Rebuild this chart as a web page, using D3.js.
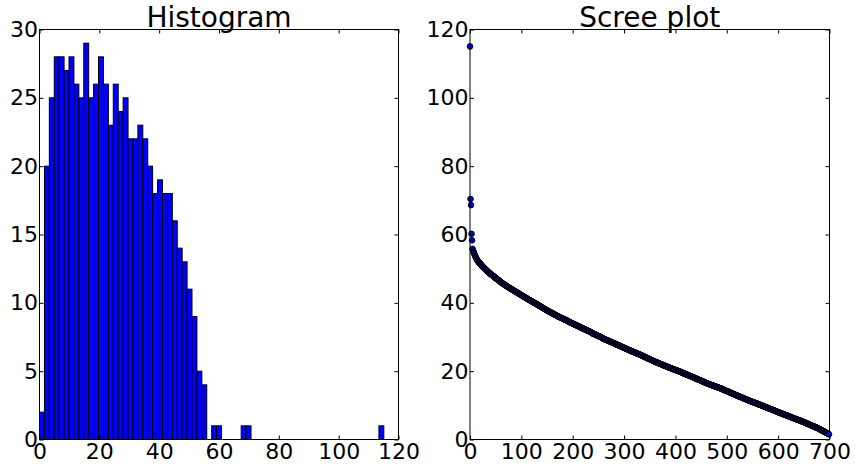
<!DOCTYPE html>
<html>
<head>
<meta charset="utf-8">
<script src="https://cdn.jsdelivr.net/npm/d3@7"></script>
<style>
body { margin: 0; background: #fff; }
text { font-family: "DejaVu Sans", sans-serif; }
</style>
</head>
<body>
<div id="chart"></div>
<script>
var w = 855,
    h = 465;

var eigenvalues = [
  115.05, 70.4, 68.6, 60.2, 58.3,
  55.8, 55.3, 54.9, 54.5,
  54.1, 53.7, 53.4, 53.1, 52.8,
  52.5, 52.3, 52.1, 51.9, 51.7, 51.6, 51.4, 51.3, 51.1,
  50.9, 50.7, 50.6, 50.4, 50.3, 50.1, 50.0, 49.8, 49.7, 49.5, 49.4,
  49.2, 49.1, 49.0, 48.8, 48.7, 48.6, 48.5, 48.3, 48.2, 48.1, 48.0, 47.9, 47.8,
  47.6, 47.5, 47.4, 47.2, 47.1, 47.0, 46.9, 46.8, 46.7, 46.6, 46.5, 46.3, 46.2, 46.1,
  45.95, 45.85, 45.75, 45.65, 45.55, 45.45, 45.35, 45.25, 45.15, 45.05, 44.95, 44.85, 44.75, 44.65, 44.55, 44.45,
  44.35, 44.26, 44.17, 44.08, 43.99, 43.90, 43.81, 43.72, 43.63, 43.54, 43.45, 43.36, 43.27, 43.18, 43.09, 43.00, 42.91, 42.82,
  42.70, 42.61, 42.52, 42.43, 42.34, 42.25, 42.16, 42.07, 41.98, 41.89, 41.80, 41.71, 41.62, 41.53, 41.44, 41.35, 41.26, 41.17,
  41.06, 40.97, 40.89, 40.80, 40.72, 40.63, 40.55, 40.46, 40.38, 40.29, 40.21, 40.12, 40.04, 39.95, 39.87, 39.78, 39.70, 39.61, 39.53,
  39.41, 39.32, 39.23, 39.14, 39.05, 38.96, 38.87, 38.78, 38.69, 38.60, 38.51, 38.42, 38.33, 38.24, 38.15, 38.06, 37.97, 37.88,
  37.78, 37.70, 37.62, 37.54, 37.46, 37.38, 37.30, 37.22, 37.14, 37.06, 36.98, 36.90, 36.82, 36.74, 36.66, 36.58, 36.50, 36.42, 36.34, 36.26,
  36.13, 36.06, 35.99, 35.92, 35.85, 35.78, 35.71, 35.64, 35.57, 35.50, 35.43, 35.36, 35.29, 35.22, 35.15, 35.08, 35.01, 34.94, 34.87, 34.80, 34.73, 34.66,
  34.49, 34.42, 34.35, 34.28, 34.21, 34.14, 34.07, 34.00, 33.93, 33.86, 33.79, 33.72, 33.65, 33.58, 33.51, 33.44, 33.37, 33.30, 33.23, 33.16, 33.09, 33.02, 32.95,
  32.85, 32.78, 32.71, 32.64, 32.57, 32.50, 32.43, 32.36, 32.29, 32.22, 32.15, 32.08, 32.01, 31.94, 31.87, 31.80, 31.73, 31.66, 31.59, 31.52, 31.45, 31.38,
  31.20, 31.13, 31.06, 30.99, 30.92, 30.85, 30.78, 30.71, 30.64, 30.57, 30.50, 30.43, 30.36, 30.29, 30.22, 30.15, 30.08, 30.01, 29.94, 29.87, 29.80, 29.73,
  29.56, 29.50, 29.43, 29.37, 29.30, 29.24, 29.17, 29.11, 29.04, 28.98, 28.91, 28.85, 28.78, 28.72, 28.65, 28.59, 28.52, 28.46, 28.39, 28.33, 28.26, 28.20, 28.13, 28.07, 28.00,
  27.92, 27.85, 27.78, 27.72, 27.65, 27.58, 27.51, 27.45, 27.38, 27.31, 27.24, 27.18, 27.11, 27.04, 26.97, 26.91, 26.84, 26.77, 26.70, 26.64, 26.57, 26.50, 26.43, 26.37,
  26.27, 26.21, 26.15, 26.08, 26.02, 25.96, 25.90, 25.83, 25.77, 25.71, 25.65, 25.58, 25.52, 25.46, 25.40, 25.33, 25.27, 25.21, 25.15, 25.08, 25.02, 24.96, 24.90, 24.83, 24.77, 24.71,
  24.62, 24.55, 24.48, 24.41, 24.34, 24.27, 24.20, 24.13, 24.06, 23.99, 23.92, 23.85, 23.78, 23.71, 23.64, 23.57, 23.50, 23.43, 23.36, 23.29, 23.22, 23.15, 23.08,
  22.98, 22.92, 22.86, 22.79, 22.73, 22.67, 22.61, 22.54, 22.48, 22.42, 22.36, 22.29, 22.23, 22.17, 22.11, 22.04, 21.98, 21.92, 21.86, 21.79, 21.73, 21.67, 21.61, 21.54, 21.48, 21.42,
  21.34, 21.28, 21.22, 21.16, 21.11, 21.05, 20.99, 20.93, 20.88, 20.82, 20.76, 20.70, 20.65, 20.59, 20.53, 20.47, 20.42, 20.36, 20.30, 20.24, 20.19, 20.13, 20.07, 20.01, 19.96, 19.90, 19.84, 19.78,
  19.69, 19.63, 19.57, 19.50, 19.44, 19.38, 19.32, 19.25, 19.19, 19.13, 19.07, 19.00, 18.94, 18.88, 18.82, 18.75, 18.69, 18.63, 18.57, 18.50, 18.44, 18.38, 18.32, 18.25, 18.19, 18.13,
  18.05, 17.98, 17.92, 17.85, 17.79, 17.72, 17.66, 17.59, 17.53, 17.46, 17.40, 17.33, 17.27, 17.20, 17.14, 17.07, 17.01, 16.94, 16.88, 16.81, 16.75, 16.68, 16.62, 16.55, 16.49,
  16.40, 16.35, 16.29, 16.24, 16.18, 16.12, 16.07, 16.01, 15.96, 15.90, 15.85, 15.79, 15.73, 15.68, 15.62, 15.57, 15.51, 15.46, 15.40, 15.34, 15.29, 15.23, 15.18, 15.12, 15.07, 15.01, 14.95, 14.90, 14.84,
  14.76, 14.69, 14.63, 14.56, 14.50, 14.43, 14.37, 14.30, 14.24, 14.17, 14.11, 14.04, 13.98, 13.91, 13.85, 13.78, 13.72, 13.65, 13.59, 13.52, 13.46, 13.39, 13.33, 13.26, 13.20,
  13.11, 13.05, 12.99, 12.92, 12.86, 12.80, 12.74, 12.67, 12.61, 12.55, 12.49, 12.42, 12.36, 12.30, 12.24, 12.17, 12.11, 12.05, 11.99, 11.92, 11.86, 11.80, 11.74, 11.67, 11.61, 11.55,
  11.47, 11.41, 11.35, 11.29, 11.24, 11.18, 11.12, 11.06, 11.01, 10.95, 10.89, 10.83, 10.78, 10.72, 10.66, 10.60, 10.55, 10.49, 10.43, 10.37, 10.32, 10.26, 10.20, 10.14, 10.09, 10.03, 9.97, 9.91,
  9.83, 9.77, 9.71, 9.65, 9.59, 9.53, 9.47, 9.41, 9.35, 9.29, 9.23, 9.17, 9.11, 9.05, 8.99, 8.93, 8.87, 8.81, 8.75, 8.69, 8.63, 8.57, 8.51, 8.45, 8.39, 8.33, 8.27,
  8.18, 8.12, 8.06, 8.00, 7.95, 7.89, 7.83, 7.77, 7.72, 7.66, 7.60, 7.54, 7.49, 7.43, 7.37, 7.31, 7.26, 7.20, 7.14, 7.08, 7.03, 6.97, 6.91, 6.85, 6.80, 6.74, 6.68, 6.62,
  6.54, 6.48, 6.42, 6.36, 6.31, 6.25, 6.19, 6.13, 6.08, 6.02, 5.96, 5.90, 5.85, 5.79, 5.73, 5.67, 5.62, 5.56, 5.50, 5.44, 5.39, 5.33, 5.27, 5.21, 5.16, 5.10, 5.04, 4.98,
  4.89, 4.82, 4.76, 4.69, 4.63, 4.56, 4.50, 4.43, 4.37, 4.30, 4.24, 4.17, 4.11, 4.04, 3.98, 3.91, 3.85, 3.78, 3.72, 3.65, 3.59, 3.52, 3.46, 3.39, 3.33,
  3.25, 3.17, 3.09, 3.01, 2.93, 2.85, 2.77, 2.69, 2.61, 2.53, 2.45, 2.37, 2.29, 2.21, 2.13, 2.05, 1.97, 1.89, 1.81, 1.73,
  1.6, 1.5
];

var nBins = 70;
var histTicksX = [0, 20, 40, 60, 80, 100, 120];
var histTicksY = [0, 5, 10, 15, 20, 25, 30];
var screeTicksX = [0, 100, 200, 300, 400, 500, 600, 700];
var screeTicksY = [0, 20, 40, 60, 80, 100, 120];

var svg = d3.select("#chart")
  .append("svg")
  .attr("width", w)
  .attr("height", h);

var top_ = 29.5, bottom = 439.5;

// frame + inside ticks on all four sides, like matplotlib classic
function panel(x, y, xTicks, yTicks, title) {
  var g = svg.append("g");
  var x0 = x.range()[0], x1 = x.range()[1];

  g.append("g")
    .attr("transform", "translate(0," + bottom + ")")
    .call(d3.axisBottom(x).tickValues(xTicks).tickSize(-4).tickPadding(4))
    .call(function(a) { a.select(".domain").remove(); });
  g.append("g")
    .attr("transform", "translate(0," + top_ + ")")
    .call(d3.axisTop(x).tickValues(xTicks).tickSize(-4).tickFormat(""))
    .call(function(a) { a.select(".domain").remove(); });
  g.append("g")
    .attr("transform", "translate(" + x0 + ",0)")
    .call(d3.axisLeft(y).tickValues(yTicks).tickSize(-4).tickPadding(1.5))
    .call(function(a) { a.select(".domain").remove(); });
  g.append("g")
    .attr("transform", "translate(" + x1 + ",0)")
    .call(d3.axisRight(y).tickValues(yTicks).tickSize(-4).tickFormat(""))
    .call(function(a) { a.select(".domain").remove(); });

  g.selectAll(".tick text")
    .attr("font-size", "22px")
    .attr("font-family", "DejaVu Sans")
    .attr("fill", "#000");
  g.selectAll(".tick line").attr("stroke", "#000");

  svg.append("text")
    .attr("x", (x0 + x1) / 2)
    .attr("y", 26.5)
    .attr("text-anchor", "middle")
    .attr("font-size", "28px")
    .attr("fill", "#000")
    .text(title);

  return g;
}

// ---- Histogram ----
var hx = d3.scaleLinear().domain([0, 120]).range([39.5, 398.5]);
var hy = d3.scaleLinear().domain([0, 30]).range([bottom, top_]);

var lo = 0, hi = 115.1;
var bins = d3.bin()
  .domain([lo, hi])
  .thresholds(d3.range(1, nBins).map(function(i) { return lo + (hi - lo) * i / nBins; }))
  (eigenvalues);

svg.append("g").selectAll("rect")
  .data(bins.filter(function(b) { return b.length > 0; }))
  .enter()
  .append("rect")
  .attr("x", function(b) { return hx(b.x0); })
  .attr("y", function(b) { return hy(b.length); })
  .attr("width", function(b) { return hx(b.x1) - hx(b.x0); })
  .attr("height", function(b) { return hy(0) - hy(b.length); })
  .attr("fill", "#0000ff")
  .attr("stroke", "#000")
  .attr("stroke-width", 1);

var hg = panel(hx, hy, histTicksX, histTicksY, "Histogram");

// ---- Scree plot ----
var sx = d3.scaleLinear().domain([0, 700]).range([470, 829.5]);
var sy = d3.scaleLinear().domain([0, 120]).range([bottom, top_]);

svg.append("g").selectAll("circle")
  .data(eigenvalues)
  .enter()
  .append("circle")
  .attr("cx", function(d, i) { return sx(i); })
  .attr("cy", function(d) { return sy(d); })
  .attr("r", 2.8)
  .attr("fill", "#0000ff")
  .attr("stroke", "#000")
  .attr("stroke-width", 1);

var sg = panel(sx, sy, screeTicksX, screeTicksY, "Scree plot");

// spines
[[39.5, 398.5], [470, 829.5]].forEach(function(r) {
  svg.append("rect")
    .attr("x", r[0])
    .attr("y", top_)
    .attr("width", r[1] - r[0])
    .attr("height", bottom - top_)
    .attr("fill", "none")
    .attr("stroke", "#000")
    .attr("stroke-width", 1);
});
</script>
</body>
</html>
